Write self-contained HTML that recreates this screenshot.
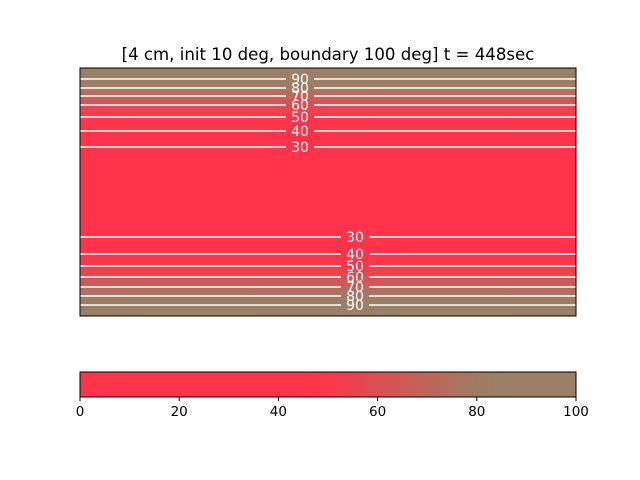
<!DOCTYPE html>
<html><head><meta charset="utf-8"><style>
html,body{margin:0;padding:0;background:#fff;}
svg{display:block;font-family:"DejaVu Sans","Liberation Sans",sans-serif;}
</style></head><body>
<svg id="chart" width="640" height="480" viewBox="0 0 640 480">
<defs>
<linearGradient id="field" x1="0" y1="0" x2="0" y2="1" gradientUnits="objectBoundingBox"></linearGradient>
<linearGradient id="cbar" x1="0" y1="0" x2="1" y2="0"></linearGradient>
</defs>
<text x="328" y="60" text-anchor="middle" font-size="16.6" fill="#000">[4 cm, init 10 deg, boundary 100 deg] t = 448sec</text>
<rect x="80" y="68" width="496" height="248" fill="url(#field)"/>
<g id="contours"></g>
<rect x="80" y="68" width="496" height="248" fill="none" stroke="#000" stroke-width="1"/>
<rect x="80" y="372" width="496" height="25" fill="url(#cbar)" stroke="#000" stroke-width="1"/>
<g id="cticks"></g>
</svg>
<script>
// contour data (depth in cm, 0..4) -> temperature level
const levels = [90, 80, 70, 60, 50, 40, 30];
const topDepth = [3.823, 3.677, 3.548, 3.403, 3.210, 2.984, 2.726];
const bottomDepth = [0.177, 0.323, 0.468, 0.629, 0.806, 1.0, 1.274];
const centerTemp = 12;
const boundaryTemp = 100;
const cbarTicks = [0, 20, 40, 60, 80, 100];
const topLabelX = 300, bottomLabelX = 355;

const NS = "http://www.w3.org/2000/svg";
const X0 = 80, X1 = 576, Y0 = 68, Y1 = 316;
const yScale = d => Y1 - (d / 4) * (Y1 - Y0);
const cScale = v => X0 + (v / 100) * (X1 - X0);
function cmap(v) {
  const a = [255, 51, 73], b = [154, 128, 102];
  let t = (v - 48) / 34; t = Math.max(0, Math.min(1, t));
  return `rgb(${a.map((c, i) => Math.round(c + (b[i] - c) * t)).join(",")})`;
}
function stop(g, off, col) {
  const s = document.createElementNS(NS, "stop");
  s.setAttribute("offset", off); s.setAttribute("stop-color", col); g.appendChild(s);
}
const fg = document.getElementById("field");
const pts = [[4, boundaryTemp]];
levels.forEach((l, i) => pts.push([topDepth[i], l]));
pts.push([2, centerTemp]);
for (let i = levels.length - 1; i >= 0; i--) pts.push([bottomDepth[i], levels[i]]);
pts.push([0, boundaryTemp]);
pts.forEach(([d, v]) => stop(fg, ((yScale(d) - Y0) / (Y1 - Y0)).toFixed(4), cmap(v)));
const cg = document.getElementById("cbar");
for (let v = 0; v <= 100; v += 5) stop(cg, v / 100, cmap(v));
const cont = document.getElementById("contours");
function contour(d, lvl, lx, side) {
  const y = yScale(d);
  const gap = 14;
  [[X0, lx - gap], [lx + gap, X1]].forEach(([a, b]) => {
    const ln = document.createElementNS(NS, "line");
    ln.setAttribute("x1", a); ln.setAttribute("x2", b);
    ln.setAttribute("y1", y); ln.setAttribute("y2", y);
    ln.setAttribute("stroke", "#fff"); ln.setAttribute("stroke-width", "1.5");
    
    
    cont.appendChild(ln);
  });
  const t = document.createElementNS(NS, "text");
  t.setAttribute("x", lx); t.setAttribute("y", y + 5);
  t.setAttribute("text-anchor", "middle"); t.setAttribute("font-size", "14");
  t.setAttribute("fill", "#fff"); t.textContent = lvl;
  
  
  cont.appendChild(t);
}
levels.forEach((l, i) => contour(topDepth[i], l, topLabelX, "top"));
levels.forEach((l, i) => contour(bottomDepth[i], l, bottomLabelX, "bottom"));
const ct = document.getElementById("cticks");
cbarTicks.forEach(v => {
  const x = cScale(v);
  const ln = document.createElementNS(NS, "line");
  ln.setAttribute("x1", x); ln.setAttribute("x2", x);
  ln.setAttribute("y1", 397); ln.setAttribute("y2", 401);
  ln.setAttribute("stroke", "#000");
  
  
  ct.appendChild(ln);
  const t = document.createElementNS(NS, "text");
  t.setAttribute("x", x); t.setAttribute("y", 416);
  t.setAttribute("text-anchor", "middle"); t.setAttribute("font-size", "13.5");
  t.textContent = v;
  
  
  ct.appendChild(t);
});
</script>
</body></html>
